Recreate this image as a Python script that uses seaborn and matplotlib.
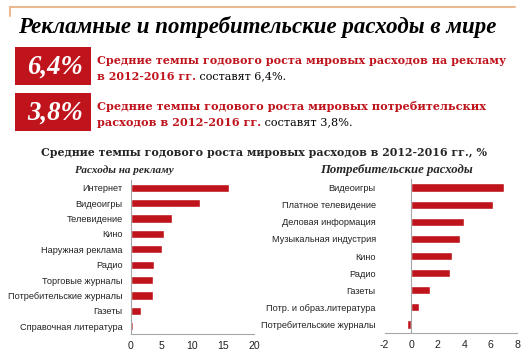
import numpy as np
import pandas as pd
import seaborn as sns
import matplotlib.pyplot as plt
from matplotlib.lines import Line2D
from matplotlib.patches import Rectangle

ad_cats = ['Интернет', 'Видеоигры', 'Телевидение', 'Кино', 'Наружная реклама',
           'Радио', 'Торговые журналы', 'Потребительские журналы', 'Газеты',
           'Справочная литература']
ad_vals = [15.9, 11.2, 6.6, 5.3, 5.0, 3.8, 3.5, 3.5, 1.6, 0.4]

cons_cats = ['Видеоигры', 'Платное телевидение', 'Деловая информация',
             'Музыкальная индустрия', 'Кино', 'Радио', 'Газеты',
             'Потр. и образ.литература', 'Потребительские журналы']
cons_vals = [7.0, 6.2, 4.0, 3.7, 3.1, 2.9, 1.4, 0.6, -0.3]

ad_ticks = [0, 5, 10, 15, 20]
cons_ticks = [-2, 0, 2, 4, 6, 8]

RED = '#C0141D'
GRAY = '#A6A6A6'
SERIF = 'DejaVu Serif'
ITAL = 'Liberation Serif'
SANS = 'Liberation Sans'

sns.set_style('white')
plt.rcParams['font.family'] = [SANS, 'DejaVu Sans']
plt.rcParams['axes.unicode_minus'] = False

W, H = 529, 353
fig = plt.figure(figsize=(W / 100, H / 100), dpi=100)
renderer = fig.canvas.get_renderer()


def fx(px):
    return px / W


def fy(py):
    return 1 - py / H


def fit(t, width_px):
    # scale a text so it takes the same width as in the reference
    bb = t.get_window_extent(renderer)
    t.set_fontsize(t.get_fontsize() * width_px / bb.width)
    return t


# header decoration
fig.add_artist(Line2D([fx(10), fx(515)], [fy(7), fy(7)], color='#EBB98F', lw=1.5))
fig.add_artist(Line2D([fx(10), fx(10)], [fy(7), fy(16)], color='#EBB98F', lw=1.5))
fit(fig.text(fx(18), fy(27), 'Рекламные и потребительские расходы в мире',
             family=ITAL, weight='bold', style='italic', fontsize=14,
             va='center', ha='left', color='black'), 478)

# highlight boxes
boxes = [
    (47, 85, '6,4%', 'Средние темпы годового роста мировых расходов на рекламу',
     'в 2012-2016 гг.', ' составят 6,4%.', 408),
    (93, 131, '3,8%', 'Средние темпы годового роста мировых потребительских',
     'расходов в 2012-2016 гг.', ' составят 3,8%.', 385),
]
for top, bottom, big, line1, line2a, line2b, w1 in boxes:
    fig.add_artist(Rectangle((fx(15), fy(bottom)), fx(91) - fx(15), fy(top) - fy(bottom),
                             transform=fig.transFigure, color=RED, lw=0))
    fit(fig.text(fx(55), fy((top + bottom) / 2 + 1), big, family=ITAL, weight='bold',
                 style='italic', fontsize=19, color='white', ha='center', va='center'), 56)
    t1 = fit(fig.text(fx(97), fy(top + 14), line1, family=SERIF, weight='bold',
                      fontsize=9, color=RED, ha='left', va='center'), w1)
    size = t1.get_fontsize()
    t2 = fig.text(fx(97), fy(top + 29), line2a, family=SERIF, weight='bold',
                  fontsize=size, color=RED, ha='left', va='center')
    x_end = t2.get_window_extent(renderer).x1
    fig.text(x_end / W, fy(top + 29), line2b, family=SERIF, fontsize=size,
             color='black', ha='left', va='center')

fit(fig.text(fx(264), fy(152), 'Средние темпы годового роста мировых расходов в 2012-2016 гг., %',
             family=SERIF, weight='bold', fontsize=9.6, ha='center', va='center'), 448)
fit(fig.text(fx(124), fy(170), 'Расходы на рекламу', family=ITAL, weight='bold',
             style='italic', fontsize=8.6, ha='center', va='center'), 98)
fit(fig.text(fx(396), fy(170), 'Потребительские расходы', family=ITAL, weight='bold',
             style='italic', fontsize=8.6, ha='center', va='center'), 152)


def bar_panel(rect, cats, vals, ticks, xlim, pad, width):
    ax = fig.add_axes(rect)
    df = pd.DataFrame({'cat': cats, 'val': vals})
    sns.barplot(data=df, y='cat', x='val', orient='h', color=RED,
                saturation=1, width=width, ax=ax)
    ax.set_xlim(*xlim)
    ax.set_xticks(ticks)
    ax.set_xlabel('')
    ax.set_ylabel('')
    for s in ['top', 'right']:
        ax.spines[s].set_visible(False)
    ax.spines['left'].set_position(('data', 0))
    for s in ['left', 'bottom']:
        ax.spines[s].set_color(GRAY)
        ax.spines[s].set_linewidth(0.8)
    ax.set_yticks(np.arange(-0.5, len(cats), 1), minor=True)
    ax.tick_params(axis='y', which='major', length=0, pad=pad, labelsize=6.6,
                   labelcolor='#222222')
    ax.tick_params(axis='y', which='minor', length=3, color=GRAY, width=0.8)
    ax.tick_params(axis='x', length=3, color=GRAY, width=0.8, labelsize=7.6,
                   labelcolor='#222222', pad=2)
    ax.set_facecolor('none')
    return ax


bar_panel([fx(131), fy(334), fx(254) - fx(131), fy(180) - fy(334)],
          ad_cats, ad_vals, ad_ticks, (0, 20), 6, 0.52)
bar_panel([fx(384.7), fy(333), fx(517.3) - fx(384.7), fy(179) - fy(333)],
          cons_cats, cons_vals, cons_ticks, (-2, 8), 25.5, 0.48)

fig.savefig('out.png', dpi=100)
